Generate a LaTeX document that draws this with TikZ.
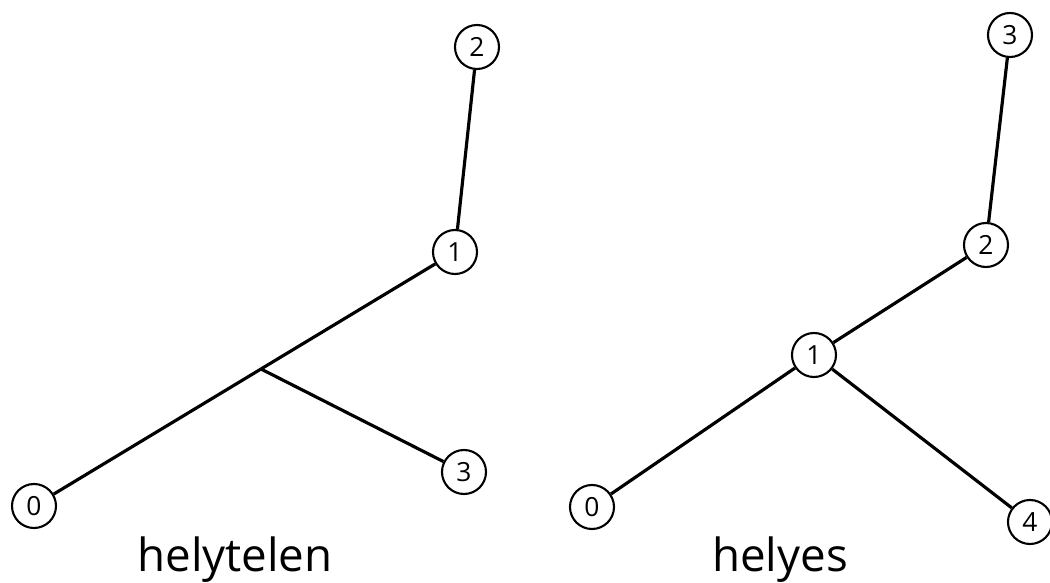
\documentclass[tikz,border=0pt]{standalone}
\usepackage{fontspec}
\setmainfont{Open Sans}
\begin{document}
\begin{tikzpicture}[
  vertex/.style={circle, draw, line width=1.2pt, minimum size=0.88cm, inner sep=0pt,
                 font=\fontsize{15}{15}\selectfont},
  edge/.style={line width=1.8pt},
  caption/.style={anchor=base, font=\fontsize{26}{26}\selectfont}
]
\clip (0,0) rectangle (21,11.66);
\fill[white] (0,0) rectangle (21,11.66);

% incorrect tree
\node[vertex] (L0) at (0.68,1.54) {0};
\node[vertex] (L1) at (9.10,6.62) {1};
\node[vertex] (L2) at (9.54,10.72) {2};
\node[vertex] (L3) at (9.28,2.22) {3};
\coordinate (J) at (5.22,4.28);
\draw[edge] (L0) -- (J);
\draw[edge] (J) -- (L1);
\draw[edge] (J) -- (L3);
\draw[edge] (L1) -- (L2);
\node[caption] (capL) at (4.70,0.22) {helytelen};

% correct tree
\node[vertex] (R0) at (11.84,1.52) {0};
\node[vertex] (R1) at (16.28,4.56) {1};
\node[vertex] (R2) at (19.72,6.76) {2};
\node[vertex] (R3) at (20.20,10.96) {3};
\node[vertex] (R4) at (20.60,1.22) {4};
\draw[edge] (R0) -- (R1);
\draw[edge] (R1) -- (R2);
\draw[edge] (R2) -- (R3);
\draw[edge] (R1) -- (R4);
\node[caption] (capR) at (15.60,0.22) {helyes};
\end{tikzpicture}
\end{document}
